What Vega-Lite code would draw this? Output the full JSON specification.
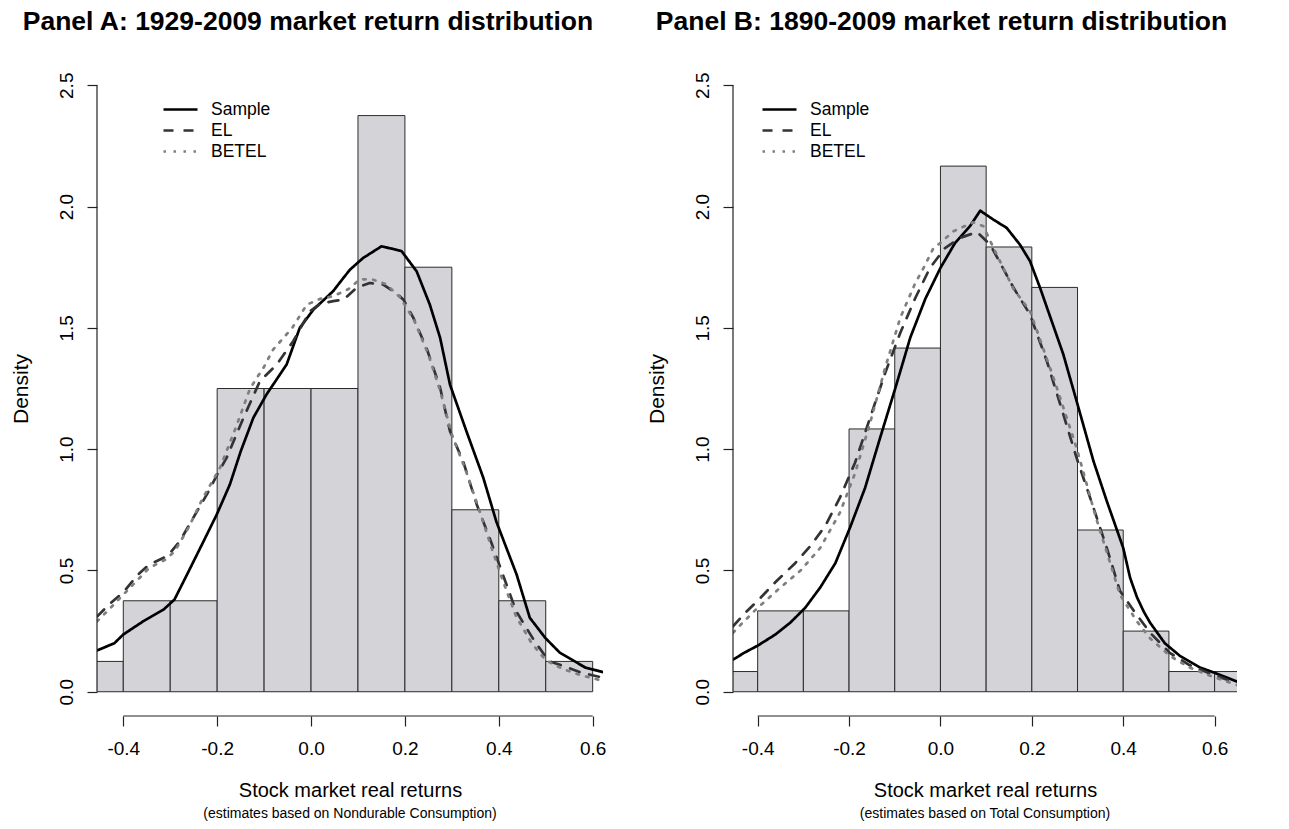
{
  "$schema": "https://vega.github.io/schema/vega-lite/v6.json",
  "padding": {"left": 10, "top": 8, "right": 0, "bottom": 0},
  "config": {
    "font": "Liberation Sans",
    "view": {"stroke": null},
    "axis": {"grid": false, "domain": false, "tickColor": "#222222", "tickSize": 10, "tickWidth": 1.2, "labelColor": "#000000", "labelFontSize": 19, "labelFont": "Liberation Sans", "titleFont": "Liberation Sans", "titleFontSize": 21, "titleFontWeight": "normal", "titleColor": "#000000", "labelExpr": "replace(datum.label, '\u2212', '-')"},
    "legend": {"title": null, "orient": "none", "symbolType": "M-1.7,0H1.7", "symbolSize": 400, "symbolStrokeWidth": 2.7, "labelFontSize": 17.5, "labelOffset": 19, "labelColor": "#000000", "rowPadding": 1, "padding": 0},
    "title": {"font": "Liberation Sans", "color": "#000000"}
  },
  "datasets": {
    "histA": [
      {"lo": -0.5, "hi": -0.4, "density": 0.125},
      {"lo": -0.4, "hi": -0.3, "density": 0.375},
      {"lo": -0.3, "hi": -0.2, "density": 0.375},
      {"lo": -0.2, "hi": -0.1, "density": 1.25},
      {"lo": -0.1, "hi": 0.0, "density": 1.25},
      {"lo": 0.0, "hi": 0.1, "density": 1.25},
      {"lo": 0.1, "hi": 0.2, "density": 2.375},
      {"lo": 0.2, "hi": 0.3, "density": 1.75},
      {"lo": 0.3, "hi": 0.4, "density": 0.75},
      {"lo": 0.4, "hi": 0.5, "density": 0.375},
      {"lo": 0.5, "hi": 0.6, "density": 0.125}
    ],
    "histB": [
      {"lo": -0.5, "hi": -0.4, "density": 0.0833},
      {"lo": -0.4, "hi": -0.3, "density": 0.3333},
      {"lo": -0.3, "hi": -0.2, "density": 0.3333},
      {"lo": -0.2, "hi": -0.1, "density": 1.0833},
      {"lo": -0.1, "hi": 0.0, "density": 1.4167},
      {"lo": 0.0, "hi": 0.1, "density": 2.1667},
      {"lo": 0.1, "hi": 0.2, "density": 1.8333},
      {"lo": 0.2, "hi": 0.3, "density": 1.6667},
      {"lo": 0.3, "hi": 0.4, "density": 0.6667},
      {"lo": 0.4, "hi": 0.5, "density": 0.25},
      {"lo": 0.5, "hi": 0.6, "density": 0.0833},
      {"lo": 0.6, "hi": 0.7, "density": 0.0833}
    ],
    "axisA": [{"x0": -0.4, "x1": 0.6, "xl": -0.456, "yb": -0.1, "y0": 0, "y1": 2.5}],
    "axisB": [{"x0": -0.4, "x1": 0.6, "xl": -0.454, "yb": -0.1, "y0": 0, "y1": 2.5}],
    "densA": [
      {"series": "Sample", "x": -0.456, "y": 0.17},
      {"series": "Sample", "x": -0.419, "y": 0.2},
      {"series": "Sample", "x": -0.4, "y": 0.236},
      {"series": "Sample", "x": -0.357, "y": 0.291},
      {"series": "Sample", "x": -0.314, "y": 0.339},
      {"series": "Sample", "x": -0.291, "y": 0.38},
      {"series": "Sample", "x": -0.265, "y": 0.48},
      {"series": "Sample", "x": -0.229, "y": 0.62},
      {"series": "Sample", "x": -0.201, "y": 0.73},
      {"series": "Sample", "x": -0.173, "y": 0.854},
      {"series": "Sample", "x": -0.15, "y": 0.99},
      {"series": "Sample", "x": -0.123, "y": 1.129},
      {"series": "Sample", "x": -0.095, "y": 1.225},
      {"series": "Sample", "x": -0.052, "y": 1.349},
      {"series": "Sample", "x": -0.024, "y": 1.5},
      {"series": "Sample", "x": 0.005, "y": 1.575},
      {"series": "Sample", "x": 0.047, "y": 1.651},
      {"series": "Sample", "x": 0.069, "y": 1.706},
      {"series": "Sample", "x": 0.083, "y": 1.74},
      {"series": "Sample", "x": 0.111, "y": 1.788},
      {"series": "Sample", "x": 0.15, "y": 1.836},
      {"series": "Sample", "x": 0.175, "y": 1.825},
      {"series": "Sample", "x": 0.193, "y": 1.816},
      {"series": "Sample", "x": 0.225, "y": 1.733},
      {"series": "Sample", "x": 0.253, "y": 1.596},
      {"series": "Sample", "x": 0.275, "y": 1.459},
      {"series": "Sample", "x": 0.296, "y": 1.266},
      {"series": "Sample", "x": 0.331, "y": 1.074},
      {"series": "Sample", "x": 0.367, "y": 0.882},
      {"series": "Sample", "x": 0.395, "y": 0.7},
      {"series": "Sample", "x": 0.438, "y": 0.483},
      {"series": "Sample", "x": 0.466, "y": 0.305},
      {"series": "Sample", "x": 0.499, "y": 0.222},
      {"series": "Sample", "x": 0.53, "y": 0.161},
      {"series": "Sample", "x": 0.561, "y": 0.126},
      {"series": "Sample", "x": 0.585, "y": 0.099},
      {"series": "Sample", "x": 0.622, "y": 0.081},
      {"series": "EL", "x": -0.456, "y": 0.31},
      {"series": "EL", "x": -0.43, "y": 0.36},
      {"series": "EL", "x": -0.4, "y": 0.41},
      {"series": "EL", "x": -0.37, "y": 0.48},
      {"series": "EL", "x": -0.345, "y": 0.524},
      {"series": "EL", "x": -0.314, "y": 0.552},
      {"series": "EL", "x": -0.3, "y": 0.573},
      {"series": "EL", "x": -0.279, "y": 0.622},
      {"series": "EL", "x": -0.251, "y": 0.717},
      {"series": "EL", "x": -0.22, "y": 0.82},
      {"series": "EL", "x": -0.2, "y": 0.895},
      {"series": "EL", "x": -0.18, "y": 0.964},
      {"series": "EL", "x": -0.144, "y": 1.129},
      {"series": "EL", "x": -0.109, "y": 1.28},
      {"series": "EL", "x": -0.073, "y": 1.349},
      {"series": "EL", "x": -0.038, "y": 1.445},
      {"series": "EL", "x": -0.002, "y": 1.569},
      {"series": "EL", "x": 0.02, "y": 1.6},
      {"series": "EL", "x": 0.047, "y": 1.61},
      {"series": "EL", "x": 0.069, "y": 1.616},
      {"series": "EL", "x": 0.097, "y": 1.665},
      {"series": "EL", "x": 0.125, "y": 1.685},
      {"series": "EL", "x": 0.154, "y": 1.678},
      {"series": "EL", "x": 0.18, "y": 1.645},
      {"series": "EL", "x": 0.197, "y": 1.616},
      {"series": "EL", "x": 0.218, "y": 1.541},
      {"series": "EL", "x": 0.246, "y": 1.417},
      {"series": "EL", "x": 0.275, "y": 1.253},
      {"series": "EL", "x": 0.296, "y": 1.074},
      {"series": "EL", "x": 0.324, "y": 0.95},
      {"series": "EL", "x": 0.353, "y": 0.772},
      {"series": "EL", "x": 0.385, "y": 0.61},
      {"series": "EL", "x": 0.406, "y": 0.497},
      {"series": "EL", "x": 0.437, "y": 0.332},
      {"series": "EL", "x": 0.476, "y": 0.209},
      {"series": "EL", "x": 0.507, "y": 0.126},
      {"series": "EL", "x": 0.538, "y": 0.106},
      {"series": "EL", "x": 0.577, "y": 0.078},
      {"series": "EL", "x": 0.622, "y": 0.058},
      {"series": "BETEL", "x": -0.456, "y": 0.29},
      {"series": "BETEL", "x": -0.43, "y": 0.34},
      {"series": "BETEL", "x": -0.4, "y": 0.4},
      {"series": "BETEL", "x": -0.37, "y": 0.46},
      {"series": "BETEL", "x": -0.345, "y": 0.51},
      {"series": "BETEL", "x": -0.31, "y": 0.545},
      {"series": "BETEL", "x": -0.29, "y": 0.58},
      {"series": "BETEL", "x": -0.26, "y": 0.68},
      {"series": "BETEL", "x": -0.23, "y": 0.8},
      {"series": "BETEL", "x": -0.194, "y": 0.923},
      {"series": "BETEL", "x": -0.16, "y": 1.09},
      {"series": "BETEL", "x": -0.13, "y": 1.25},
      {"series": "BETEL", "x": -0.1, "y": 1.34},
      {"series": "BETEL", "x": -0.081, "y": 1.41},
      {"series": "BETEL", "x": -0.04, "y": 1.5},
      {"series": "BETEL", "x": -0.009, "y": 1.596},
      {"series": "BETEL", "x": 0.02, "y": 1.62},
      {"series": "BETEL", "x": 0.047, "y": 1.63},
      {"series": "BETEL", "x": 0.08, "y": 1.66},
      {"series": "BETEL", "x": 0.104, "y": 1.7},
      {"series": "BETEL", "x": 0.13, "y": 1.7},
      {"series": "BETEL", "x": 0.16, "y": 1.68},
      {"series": "BETEL", "x": 0.19, "y": 1.625},
      {"series": "BETEL", "x": 0.22, "y": 1.53},
      {"series": "BETEL", "x": 0.25, "y": 1.39},
      {"series": "BETEL", "x": 0.275, "y": 1.24},
      {"series": "BETEL", "x": 0.3, "y": 1.06},
      {"series": "BETEL", "x": 0.33, "y": 0.91},
      {"series": "BETEL", "x": 0.36, "y": 0.74},
      {"series": "BETEL", "x": 0.385, "y": 0.59},
      {"series": "BETEL", "x": 0.41, "y": 0.45},
      {"series": "BETEL", "x": 0.437, "y": 0.31},
      {"series": "BETEL", "x": 0.47, "y": 0.2},
      {"series": "BETEL", "x": 0.5, "y": 0.13},
      {"series": "BETEL", "x": 0.535, "y": 0.095},
      {"series": "BETEL", "x": 0.575, "y": 0.068},
      {"series": "BETEL", "x": 0.622, "y": 0.045}
    ],
    "densB": [
      {"series": "Sample", "x": -0.454, "y": 0.132},
      {"series": "Sample", "x": -0.43, "y": 0.16},
      {"series": "Sample", "x": -0.4, "y": 0.19},
      {"series": "Sample", "x": -0.362, "y": 0.235},
      {"series": "Sample", "x": -0.329, "y": 0.284},
      {"series": "Sample", "x": -0.296, "y": 0.346},
      {"series": "Sample", "x": -0.263, "y": 0.43},
      {"series": "Sample", "x": -0.23, "y": 0.53},
      {"series": "Sample", "x": -0.198, "y": 0.676},
      {"series": "Sample", "x": -0.165, "y": 0.84},
      {"series": "Sample", "x": -0.132, "y": 1.047},
      {"series": "Sample", "x": -0.099, "y": 1.25},
      {"series": "Sample", "x": -0.066, "y": 1.46},
      {"series": "Sample", "x": -0.033, "y": 1.62},
      {"series": "Sample", "x": 0.0, "y": 1.747},
      {"series": "Sample", "x": 0.032, "y": 1.85},
      {"series": "Sample", "x": 0.065, "y": 1.92},
      {"series": "Sample", "x": 0.087, "y": 1.983},
      {"series": "Sample", "x": 0.116, "y": 1.946},
      {"series": "Sample", "x": 0.145, "y": 1.912},
      {"series": "Sample", "x": 0.174, "y": 1.843},
      {"series": "Sample", "x": 0.196, "y": 1.775},
      {"series": "Sample", "x": 0.218, "y": 1.665},
      {"series": "Sample", "x": 0.269, "y": 1.39},
      {"series": "Sample", "x": 0.298, "y": 1.198},
      {"series": "Sample", "x": 0.335, "y": 0.95},
      {"series": "Sample", "x": 0.364, "y": 0.786},
      {"series": "Sample", "x": 0.4, "y": 0.593},
      {"series": "Sample", "x": 0.415, "y": 0.47},
      {"series": "Sample", "x": 0.43, "y": 0.39},
      {"series": "Sample", "x": 0.445, "y": 0.33},
      {"series": "Sample", "x": 0.459, "y": 0.284},
      {"series": "Sample", "x": 0.491, "y": 0.2},
      {"series": "Sample", "x": 0.524, "y": 0.148},
      {"series": "Sample", "x": 0.568, "y": 0.1},
      {"series": "Sample", "x": 0.6, "y": 0.078},
      {"series": "Sample", "x": 0.649, "y": 0.042},
      {"series": "EL", "x": -0.454, "y": 0.27},
      {"series": "EL", "x": -0.43, "y": 0.32},
      {"series": "EL", "x": -0.4, "y": 0.375},
      {"series": "EL", "x": -0.362, "y": 0.45},
      {"series": "EL", "x": -0.318, "y": 0.53},
      {"series": "EL", "x": -0.285, "y": 0.6},
      {"series": "EL", "x": -0.252, "y": 0.684},
      {"series": "EL", "x": -0.22, "y": 0.8},
      {"series": "EL", "x": -0.187, "y": 0.944},
      {"series": "EL", "x": -0.154, "y": 1.129},
      {"series": "EL", "x": -0.121, "y": 1.314},
      {"series": "EL", "x": -0.088, "y": 1.479},
      {"series": "EL", "x": -0.055, "y": 1.623},
      {"series": "EL", "x": -0.023, "y": 1.747},
      {"series": "EL", "x": 0.01, "y": 1.829},
      {"series": "EL", "x": 0.043, "y": 1.871},
      {"series": "EL", "x": 0.08, "y": 1.895},
      {"series": "EL", "x": 0.109, "y": 1.843},
      {"series": "EL", "x": 0.16, "y": 1.665},
      {"series": "EL", "x": 0.196, "y": 1.555},
      {"series": "EL", "x": 0.233, "y": 1.362},
      {"series": "EL", "x": 0.269, "y": 1.143},
      {"series": "EL", "x": 0.298, "y": 0.964},
      {"series": "EL", "x": 0.335, "y": 0.758},
      {"series": "EL", "x": 0.364, "y": 0.593},
      {"series": "EL", "x": 0.393, "y": 0.415},
      {"series": "EL", "x": 0.426, "y": 0.326},
      {"series": "EL", "x": 0.459, "y": 0.243},
      {"series": "EL", "x": 0.502, "y": 0.16},
      {"series": "EL", "x": 0.545, "y": 0.11},
      {"series": "EL", "x": 0.59, "y": 0.075},
      {"series": "EL", "x": 0.649, "y": 0.035},
      {"series": "BETEL", "x": -0.454, "y": 0.243},
      {"series": "BETEL", "x": -0.43, "y": 0.29},
      {"series": "BETEL", "x": -0.4, "y": 0.346},
      {"series": "BETEL", "x": -0.35, "y": 0.43},
      {"series": "BETEL", "x": -0.306, "y": 0.5},
      {"series": "BETEL", "x": -0.263, "y": 0.593},
      {"series": "BETEL", "x": -0.22, "y": 0.738},
      {"series": "BETEL", "x": -0.187, "y": 0.9},
      {"series": "BETEL", "x": -0.154, "y": 1.108},
      {"series": "BETEL", "x": -0.121, "y": 1.335},
      {"series": "BETEL", "x": -0.088, "y": 1.541},
      {"series": "BETEL", "x": -0.055, "y": 1.685},
      {"series": "BETEL", "x": -0.037, "y": 1.747},
      {"series": "BETEL", "x": -0.015, "y": 1.83},
      {"series": "BETEL", "x": 0.0, "y": 1.85},
      {"series": "BETEL", "x": 0.028, "y": 1.898},
      {"series": "BETEL", "x": 0.072, "y": 1.935},
      {"series": "BETEL", "x": 0.094, "y": 1.919},
      {"series": "BETEL", "x": 0.116, "y": 1.83},
      {"series": "BETEL", "x": 0.16, "y": 1.66},
      {"series": "BETEL", "x": 0.196, "y": 1.57},
      {"series": "BETEL", "x": 0.25, "y": 1.28},
      {"series": "BETEL", "x": 0.298, "y": 1.005},
      {"series": "BETEL", "x": 0.34, "y": 0.72},
      {"series": "BETEL", "x": 0.393, "y": 0.4},
      {"series": "BETEL", "x": 0.43, "y": 0.29},
      {"series": "BETEL", "x": 0.459, "y": 0.22},
      {"series": "BETEL", "x": 0.502, "y": 0.148},
      {"series": "BETEL", "x": 0.545, "y": 0.1},
      {"series": "BETEL", "x": 0.59, "y": 0.066},
      {"series": "BETEL", "x": 0.649, "y": 0.028}
    ]
  },
  "resolve": {
    "scale": {"color": "independent", "strokeDash": "independent"},
    "legend": {"color": "independent", "strokeDash": "independent"}
  },
  "spacing": 40,
  "hconcat": [
    {
      "title": {"text": "Panel A: 1929-2009 market return distribution", "fontSize": 26.5, "fontWeight": "bold", "anchor": "middle", "offset": 26},
      "vconcat": [
        {
          "width": 506,
          "height": 655,
          "title": {"text": "(estimates based on Nondurable Consumption)", "orient": "bottom", "anchor": "middle", "fontSize": 14, "fontWeight": "normal", "offset": 7},
          "layer": [
            {
              "data": {"name": "histA"},
              "mark": {"type": "rect", "fill": "#d4d3d8", "stroke": "#2b2b2b", "strokeWidth": 1, "clip": true},
              "encoding": {
                "x": {"field": "lo", "type": "quantitative", "scale": {"domain": [-0.456, 0.622], "nice": false, "zero": false},
                      "axis": {"values": [-0.4, -0.2, 0, 0.2, 0.4, 0.6], "format": ".1f", "title": "Stock market real returns", "titleFontSize": 20, "labelPadding": 13, "titlePadding": 22}},
                "x2": {"field": "hi"},
                "y": {"field": "density", "type": "quantitative", "scale": {"domain": [-0.1, 2.6], "nice": false, "zero": false},
                      "axis": {"values": [0, 0.5, 1, 1.5, 2, 2.5], "format": ".1f", "title": "Density", "labelAngle": 270, "labelAlign": "center", "labelBaseline": "bottom", "labelPadding": 11, "titlePadding": 26}},
                "y2": {"datum": 0}
              }
            },
            {
              "data": {"name": "densA"},
              "mark": {"type": "line", "strokeWidth": 2.7, "strokeCap": "round", "strokeJoin": "round", "clip": true},
              "encoding": {
                "x": {"field": "x", "type": "quantitative"},
                "y": {"field": "y", "type": "quantitative"},
                "color": {"field": "series", "type": "nominal", "scale": {"domain": ["Sample", "EL", "BETEL"], "range": ["#000000", "#333333", "#7f7f7f"]},
                          "legend": {"legendX": 72, "legendY": 37}},
                "strokeDash": {"field": "series", "type": "nominal", "scale": {"domain": ["Sample", "EL", "BETEL"], "range": [[1, 0], [10, 10], [2.5, 7.5]]},
                          "legend": {"legendX": 72, "legendY": 37}}
              }
            },
            {
              "data": {"name": "axisA"},
              "mark": {"type": "rule", "color": "#222222", "strokeWidth": 1.2},
              "encoding": {"x": {"field": "x0", "type": "quantitative"}, "x2": {"field": "x1"}, "y": {"field": "yb", "type": "quantitative"}}
            },
            {
              "data": {"name": "axisA"},
              "mark": {"type": "rule", "color": "#222222", "strokeWidth": 1.2},
              "encoding": {"x": {"field": "xl", "type": "quantitative"}, "y": {"field": "y0", "type": "quantitative"}, "y2": {"field": "y1"}}
            }
          ]
        }
      ]
    },
    {
      "title": {"text": "Panel B: 1890-2009 market return distribution", "fontSize": 26.5, "fontWeight": "bold", "anchor": "middle", "offset": 26},
      "vconcat": [
        {
          "width": 504,
          "height": 655,
          "title": {"text": "(estimates based on Total Consumption)", "orient": "bottom", "anchor": "middle", "fontSize": 14, "fontWeight": "normal", "offset": 7},
          "layer": [
            {
              "data": {"name": "histB"},
              "mark": {"type": "rect", "fill": "#d4d3d8", "stroke": "#2b2b2b", "strokeWidth": 1, "clip": true},
              "encoding": {
                "x": {"field": "lo", "type": "quantitative", "scale": {"domain": [-0.454, 0.649], "nice": false, "zero": false},
                      "axis": {"values": [-0.4, -0.2, 0, 0.2, 0.4, 0.6], "format": ".1f", "title": "Stock market real returns", "titleFontSize": 20, "labelPadding": 13, "titlePadding": 22}},
                "x2": {"field": "hi"},
                "y": {"field": "density", "type": "quantitative", "scale": {"domain": [-0.1, 2.6], "nice": false, "zero": false},
                      "axis": {"values": [0, 0.5, 1, 1.5, 2, 2.5], "format": ".1f", "title": "Density", "labelAngle": 270, "labelAlign": "center", "labelBaseline": "bottom", "labelPadding": 11, "titlePadding": 26}},
                "y2": {"datum": 0}
              }
            },
            {
              "data": {"name": "densB"},
              "mark": {"type": "line", "strokeWidth": 2.7, "strokeCap": "round", "strokeJoin": "round", "clip": true},
              "encoding": {
                "x": {"field": "x", "type": "quantitative"},
                "y": {"field": "y", "type": "quantitative"},
                "color": {"field": "series", "type": "nominal", "scale": {"domain": ["Sample", "EL", "BETEL"], "range": ["#000000", "#333333", "#7f7f7f"]},
                          "legend": {"legendX": 35, "legendY": 37}},
                "strokeDash": {"field": "series", "type": "nominal", "scale": {"domain": ["Sample", "EL", "BETEL"], "range": [[1, 0], [10, 10], [2.5, 7.5]]},
                          "legend": {"legendX": 35, "legendY": 37}}
              }
            },
            {
              "data": {"name": "axisB"},
              "mark": {"type": "rule", "color": "#222222", "strokeWidth": 1.2},
              "encoding": {"x": {"field": "x0", "type": "quantitative"}, "x2": {"field": "x1"}, "y": {"field": "yb", "type": "quantitative"}}
            },
            {
              "data": {"name": "axisB"},
              "mark": {"type": "rule", "color": "#222222", "strokeWidth": 1.2},
              "encoding": {"x": {"field": "xl", "type": "quantitative"}, "y": {"field": "y0", "type": "quantitative"}, "y2": {"field": "y1"}}
            }
          ]
        }
      ]
    }
  ]
}
